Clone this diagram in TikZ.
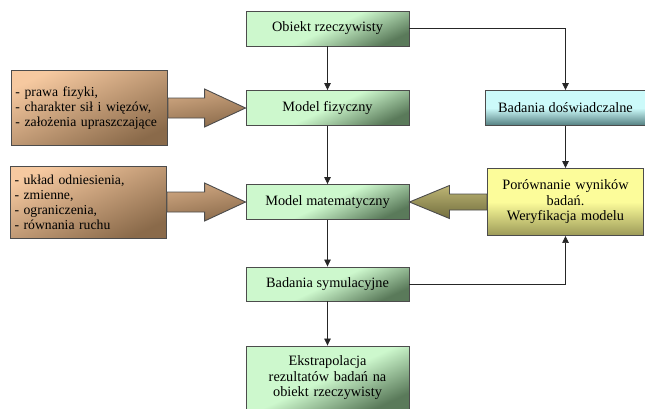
\documentclass[tikz,border=0pt]{standalone}
\usepackage{fontspec}
\setmainfont{Liberation Serif}
\usetikzlibrary{arrows.meta, positioning, calc}
\definecolor{greenlight}{HTML}{CDF8CD}
\definecolor{greendark}{HTML}{5A7A5A}
\definecolor{brownlight}{HTML}{F6C9A0}
\definecolor{browndark}{HTML}{8A6A4A}
\definecolor{cyanlight}{HTML}{CCFAFA}
\definecolor{cyandark}{HTML}{537E7F}
\definecolor{yellowlight}{HTML}{FCFC9A}
\definecolor{yellowdark}{HTML}{9C9A58}
\definecolor{olivelight}{HTML}{BDB574}
\definecolor{olivedark}{HTML}{726E3E}
\tikzstyle{block} = [rectangle, draw=black!70, line width=0.9pt, minimum width=163pt, minimum height=35pt, text centered, font=\fontsize{14.3}{15.5}\selectfont, top color=greenlight, bottom color=greendark, middle color=greenlight, shading angle=25]
\tikzstyle{inputbox} = [rectangle, draw=black!70, line width=0.9pt, text width=148pt, inner sep=4pt, align=left, font=\fontsize{13.7}{15}\selectfont, top color=brownlight, bottom color=browndark, shading angle=25]
\tikzstyle{callout} = [draw=black!70, line width=0.9pt, line join=miter]
\tikzstyle{arrow} = [line width=0.7pt, draw=black!85, -{Triangle[length=7pt, width=6.5pt]}]

\begin{document}
\begin{tikzpicture}[x=1pt, y=-1pt, node distance=80pt and 238pt, on grid]
        \useasboundingbox (0,0) rectangle (645,408);
        \node[block] (obj) at (327.5,28.5) {Obiekt rzeczywisty};
        \node[block, below=79.5pt of obj] (fiz) {Model fizyczny};
        \node[block, below=94pt of fiz] (mat) {Model matematyczny};
        \node[block, minimum height=34pt, below=82pt of mat] (sym) {Badania symulacyjne};
        \node[block, minimum height=64pt, text width=150pt, below=94pt of sym] (ext) {Ekstrapolacja\\rezultatów badań na\\obiekt rzeczywisty};
        \node[block, minimum width=161pt, top color=cyanlight, bottom color=cyandark, middle color=cyanlight, right=of fiz] (exp) {Badania doświadczalne};
        \node[block, minimum width=156pt, minimum height=67pt, text width=148pt, top color=yellowlight, bottom color=yellowdark, middle color=yellowlight, right=of mat] (cmp) {Porównanie wyników\\badań.\\Weryfikacja modelu};
        \node[inputbox, minimum height=75pt, left=of fiz] (lawsIn) {- prawa fizyki,\\- charakter sił i więzów,\\- założenia upraszczające};
        \node[inputbox, minimum height=72pt, left=239pt of mat] (mathIn) {- układ odniesienia,\\- zmienne,\\- ograniczenia,\\- równania ruchu};

        % block arrows of the input boxes
        \draw[callout, top color=brownlight!65!browndark, bottom color=browndark, shading angle=10] (fiz.west) -- ++(-41,-19) -- ++(0,9) -- ($(lawsIn.east)+(0,-10)$) -- ($(lawsIn.east)+(0,10)$) -- ($(fiz.west)+(-41,10)$) -- ++(0,9) -- cycle;
        \draw[callout, top color=brownlight!65!browndark, bottom color=browndark, shading angle=10] (mat.west) -- ++(-41,-19) -- ++(0,9) -- ($(mathIn.east)+(0,-10)$) -- ($(mathIn.east)+(0,10)$) -- ($(mat.west)+(-41,10)$) -- ++(0,9) -- cycle;
        \draw[callout, top color=olivelight, bottom color=olivedark, shading angle=0] (mat.east) -- ++(40,-16.5) -- ++(0,8.5) -- ($(cmp.west)+(0,-8)$) -- ($(cmp.west)+(0,8)$) -- ($(mat.east)+(40,8)$) -- ++(0,8.5) -- cycle;

        \draw[arrow] (obj) -- (fiz);
        \draw[arrow] (fiz) -- (mat);
        \draw[arrow] (mat) -- (sym);
        \draw[arrow] (sym) -- (ext);
        \draw[arrow] (obj.east) -| (exp.north);
        \draw[arrow] (exp) -- (cmp);
        \draw[arrow] (sym.east) -| (cmp.south);
    \end{tikzpicture}
\end{document}
